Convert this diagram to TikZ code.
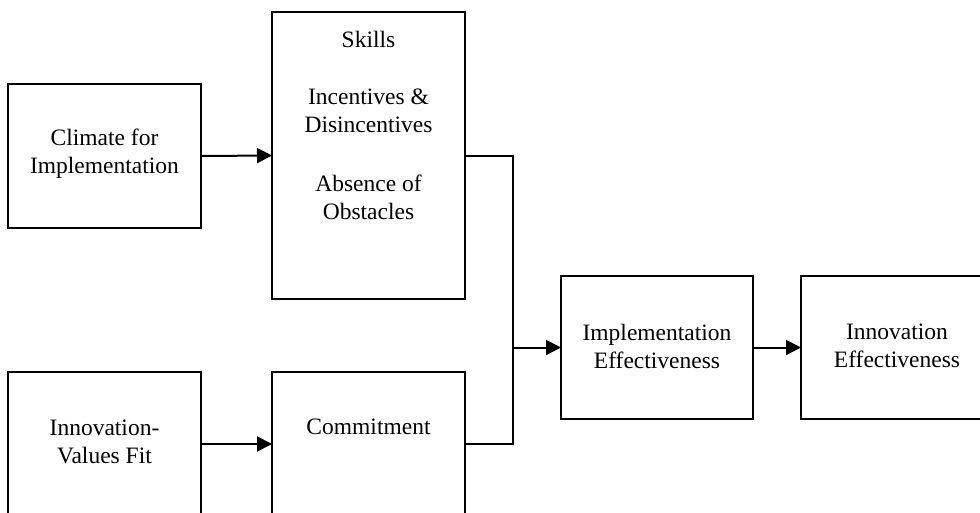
\documentclass[tikz,border=0pt]{standalone}
\usepackage{fontspec}
\setmainfont{Liberation Serif}
\usetikzlibrary{arrows.meta}
\begin{document}
\begin{tikzpicture}[x=1pt,y=-1pt,
  box/.style={draw,line width=2pt,inner sep=0pt,outer sep=0pt,minimum width=193pt,minimum height=144pt},
  txt/.style={align=center,inner sep=0pt,font=\fontsize{23.5}{28}\selectfont},
  conn/.style={line width=2pt},
  arr/.style={line width=2pt,-{Triangle[length=15pt,width=15pt]}}]
\useasboundingbox (0,0) rectangle (980,512);
\clip (0,0) rectangle (980,512);
\node[box] (clim) at (104.5,156) {};
\node[box,minimum height=287pt] (skills) at (368.5,155.5) {};
\node[box] (ivf) at (104.5,444) {};
\node[box] (comm) at (368.5,444) {};
\node[box,minimum width=192pt,minimum height=143pt] (impl) at (657,347.5) {};
\node[box,minimum width=192pt,minimum height=143pt] (innov) at (897,347.5) {};
\node[txt] (climt) at (104.5,154) {Climate for\\Implementation};
\node[txt] (sk1) at (368.5,39) {Skills};
\node[txt] (sk2) at (368.5,111) {Incentives \&\\Disincentives};
\node[txt] (sk3) at (368.5,197.5) {Absence of\\Obstacles};
\node[txt] (ivft) at (104.5,442) {Innovation-\\Values Fit};
\node[txt] (commt) at (368.5,427) {Commitment};
\node[txt] (implt) at (657,346) {Implementation\\Effectiveness};
\node[txt] (innovt) at (897,346) {Innovation\\Effectiveness};
\coordinate (j) at (513,347.5);
\draw[arr] (clim.east) -- (skills.west);
\draw[arr] (ivf.east) -- (comm.west);
\draw[conn] (skills.east) -| (j);
\draw[conn] (comm.east) -| (j);
\draw[arr] (j) -- (impl.west);
\draw[arr] (impl.east) -- (innov.west);
\end{tikzpicture}
\end{document}
